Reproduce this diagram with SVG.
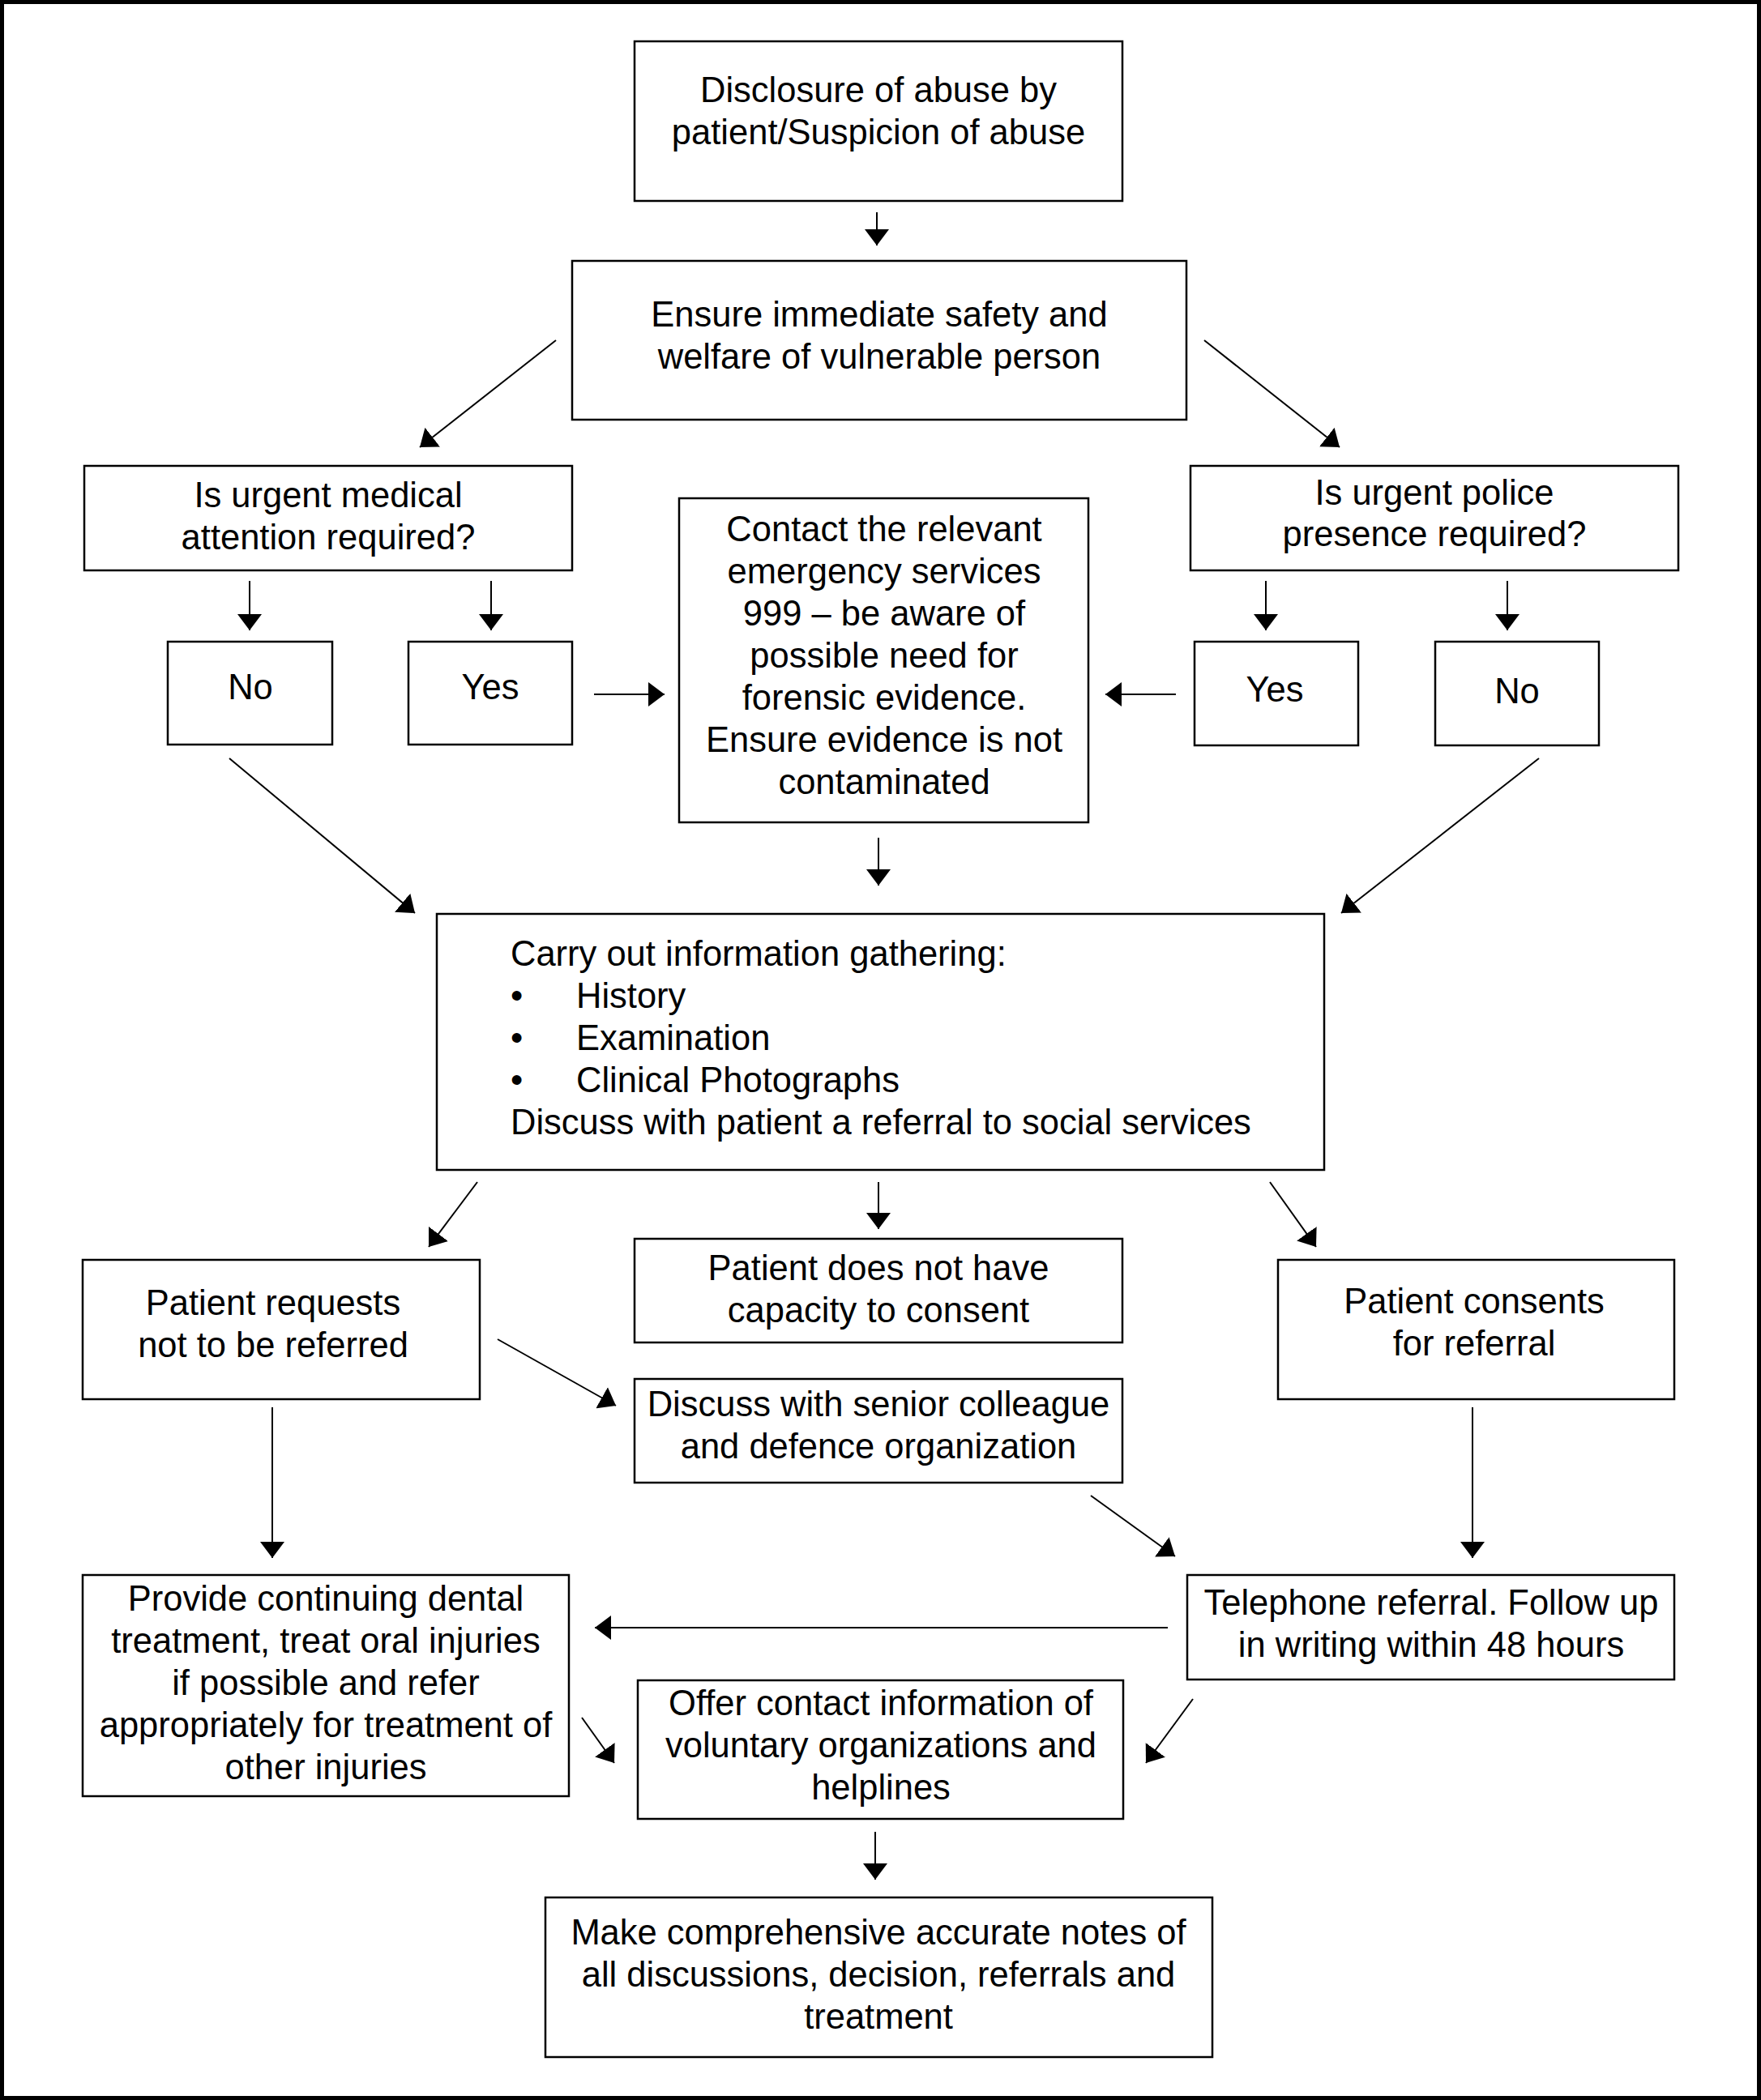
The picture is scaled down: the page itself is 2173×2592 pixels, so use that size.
<svg xmlns="http://www.w3.org/2000/svg" width="2173" height="2592" viewBox="0 0 2173 2592">
<style>
.box{fill:#fff;stroke:#000;stroke-width:2.5}
.t{font-family:"Liberation Sans",Arial,sans-serif;font-size:43.5px;fill:#000;text-anchor:middle}
.l{text-anchor:start}
.c{stroke:#000;stroke-width:2;fill:none;marker-end:url(#ah)}
</style>
<defs>
<marker id="ah" viewBox="0 0 20 30" refX="20" refY="15" markerWidth="20" markerHeight="30" markerUnits="userSpaceOnUse" orient="auto">
<path d="M0,0 L20,15 L0,30 Z" fill="#000"/>
</marker>
</defs>
<rect x="0" y="0" width="2173" height="2592" fill="#fff"/>
<rect x="2.5" y="2.5" width="2168" height="2587" fill="none" stroke="#000" stroke-width="5"/>

<g id="n-disclosure"><rect class="box" x="783" y="51" width="602" height="197"/>
<text class="t" x="1084" y="126">Disclosure of abuse by</text><text class="t" x="1084" y="178">patient/Suspicion of abuse</text></g>
<g id="n-ensure"><rect class="box" x="706" y="322" width="758" height="196"/>
<text class="t" x="1085" y="403">Ensure immediate safety and</text><text class="t" x="1085" y="455">welfare of vulnerable person</text></g>
<g id="n-medical"><rect class="box" x="104" y="575" width="602" height="129"/>
<text class="t" x="405" y="626">Is urgent medical</text><text class="t" x="405" y="678">attention required?</text></g>
<g id="n-police"><rect class="box" x="1469" y="575" width="602" height="129"/>
<text class="t" x="1770" y="623">Is urgent police</text><text class="t" x="1770" y="674">presence required?</text></g>
<g id="n-contact"><rect class="box" x="838" y="615" width="505" height="400"/>
<text class="t" x="1091" y="668">Contact the relevant</text>
<text class="t" x="1091" y="720">emergency services</text>
<text class="t" x="1091" y="772">999 – be aware of</text>
<text class="t" x="1091" y="824">possible need for</text>
<text class="t" x="1091" y="876">forensic evidence.</text>
<text class="t" x="1091" y="928">Ensure evidence is not</text>
<text class="t" x="1091" y="980">contaminated</text></g>
<g id="n-no-left"><rect class="box" x="207" y="792" width="203" height="127"/><text class="t" x="309" y="863">No</text></g>
<g id="n-yes-left"><rect class="box" x="504" y="792" width="202" height="127"/><text class="t" x="605" y="863">Yes</text></g>
<g id="n-yes-right"><rect class="box" x="1474" y="792" width="202" height="128"/><text class="t" x="1573" y="866">Yes</text></g>
<g id="n-no-right"><rect class="box" x="1771" y="792" width="202" height="128"/><text class="t" x="1872" y="868">No</text></g>
<g id="n-gather"><rect class="box" x="539" y="1128" width="1095" height="316"/>
<text class="t l" x="630" y="1192">Carry out information gathering:</text>
<text class="t l" x="630" y="1244">•</text><text class="t l" x="711" y="1244">History</text>
<text class="t l" x="630" y="1296">•</text><text class="t l" x="711" y="1296">Examination</text>
<text class="t l" x="630" y="1348">•</text><text class="t l" x="711" y="1348">Clinical Photographs</text>
<text class="t l" x="630" y="1400">Discuss with patient a referral to social services</text></g>
<g id="n-requests"><rect class="box" x="102" y="1555" width="490" height="172"/>
<text class="t" x="337" y="1623">Patient requests</text><text class="t" x="337" y="1675">not to be referred</text></g>
<g id="n-capacity"><rect class="box" x="783" y="1529" width="602" height="128"/>
<text class="t" x="1084" y="1580">Patient does not have</text><text class="t" x="1084" y="1632">capacity to consent</text></g>
<g id="n-consents"><rect class="box" x="1577" y="1555" width="489" height="172"/>
<text class="t" x="1819" y="1621">Patient consents</text><text class="t" x="1819" y="1673">for referral</text></g>
<g id="n-discuss"><rect class="box" x="783" y="1702" width="602" height="128"/>
<text class="t" x="1084" y="1748">Discuss with senior colleague</text><text class="t" x="1084" y="1800">and defence organization</text></g>
<g id="n-provide"><rect class="box" x="102" y="1944" width="600" height="273"/>
<text class="t" x="402" y="1988">Provide continuing dental</text>
<text class="t" x="402" y="2040">treatment, treat oral injuries</text>
<text class="t" x="402" y="2092">if possible and refer</text>
<text class="t" x="402" y="2144">appropriately for treatment of</text>
<text class="t" x="402" y="2196">other injuries</text></g>
<g id="n-telephone"><rect class="box" x="1465" y="1944" width="601" height="129"/>
<text class="t" x="1766" y="1993">Telephone referral. Follow up</text><text class="t" x="1766" y="2045">in writing within 48 hours</text></g>
<g id="n-offer"><rect class="box" x="787" y="2074" width="599" height="171"/>
<text class="t" x="1087" y="2117">Offer contact information of</text>
<text class="t" x="1087" y="2169">voluntary organizations and</text>
<text class="t" x="1087" y="2221">helplines</text></g>
<g id="n-notes"><rect class="box" x="673" y="2342" width="823" height="197"/>
<text class="t" x="1084" y="2400">Make comprehensive accurate notes of</text>
<text class="t" x="1084" y="2452">all discussions, decision, referrals and</text>
<text class="t" x="1084" y="2504">treatment</text></g>

<g id="connectors">
<line class="c" x1="1082" y1="262" x2="1082" y2="303"/>
<line class="c" x1="686" y1="420" x2="518" y2="552"/>
<line class="c" x1="1486" y1="420" x2="1653" y2="552"/>
<line class="c" x1="308" y1="717" x2="308" y2="778"/>
<line class="c" x1="606" y1="717" x2="606" y2="778"/>
<line class="c" x1="1562" y1="717" x2="1562" y2="778"/>
<line class="c" x1="1860" y1="717" x2="1860" y2="778"/>
<line class="c" x1="733" y1="857" x2="820" y2="857"/>
<line class="c" x1="1451" y1="857" x2="1364" y2="857"/>
<line class="c" x1="283" y1="936" x2="512" y2="1127"/>
<line class="c" x1="1899" y1="936" x2="1655" y2="1127"/>
<line class="c" x1="1084" y1="1034" x2="1084" y2="1093"/>
<line class="c" x1="589" y1="1459" x2="529" y2="1539"/>
<line class="c" x1="1084" y1="1459" x2="1084" y2="1517"/>
<line class="c" x1="1567" y1="1459" x2="1624" y2="1539"/>
<line class="c" x1="614" y1="1653" x2="760" y2="1735"/>
<line class="c" x1="336" y1="1737" x2="336" y2="1923"/>
<line class="c" x1="1346" y1="1846" x2="1450" y2="1921"/>
<line class="c" x1="1817" y1="1737" x2="1817" y2="1923"/>
<line class="c" x1="1441" y1="2009" x2="734" y2="2009"/>
<line class="c" x1="718" y1="2120" x2="758" y2="2176"/>
<line class="c" x1="1472" y1="2097" x2="1414" y2="2176"/>
<line class="c" x1="1080" y1="2261" x2="1080" y2="2320"/>
</g>
</svg>
